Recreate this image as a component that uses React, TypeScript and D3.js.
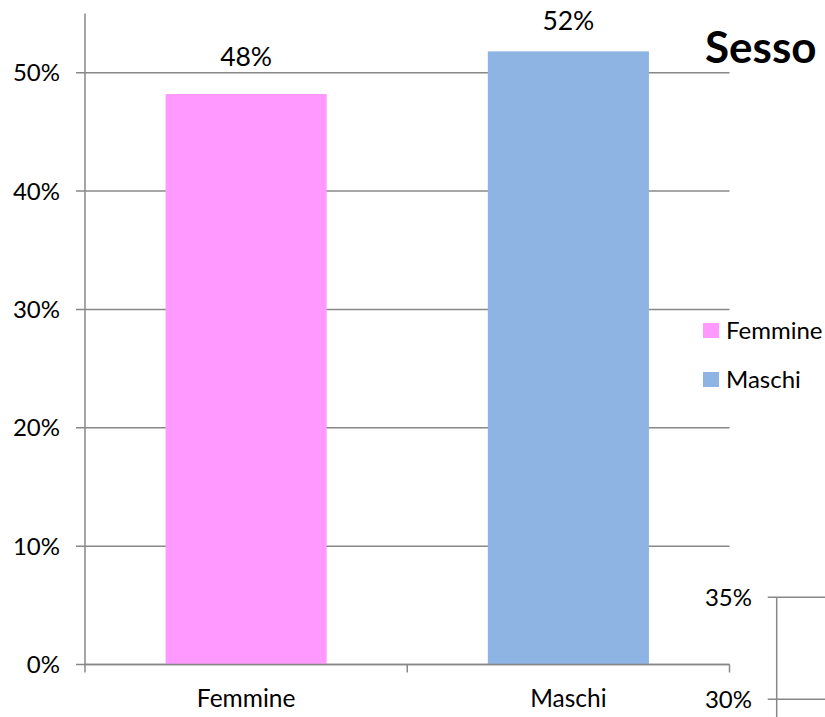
import React from "react";
import * as d3 from "d3";

const categories = ["Femmine", "Maschi"];
const values = [0.482, 0.518];
const valueLabels = ["48%", "52%"];
const colors = ["#FF99FF", "#8EB4E3"];
const yTicks = [0, 0.1, 0.2, 0.3, 0.4, 0.5];
const yTickLabels = ["0%", "10%", "20%", "30%", "40%", "50%"];
const title = "Sesso";
const nextTicks = [0.3, 0.35];
const nextTickLabels = ["30%", "35%"];

const FONT = "Lato, 'Open Sans', sans-serif";
const GRID = "#888888";

export default function App() {
  const W = 825, H = 717;
  const x0 = 85, x1 = 729.5;
  const y = d3.scaleLinear().domain([0, 0.55]).range([664.5, 13.5]);
  const x = d3.scaleBand().domain(categories).range([x0, x1]).paddingInner(0.5).paddingOuter(0.25);
  const y2 = d3.scaleLinear().domain([0.3, 0.35]).range([699.3, 597.3]);
  const ax2 = 776.7;

  return (
    <svg width={W} height={H} style={{ position: "absolute", left: 0, top: 0, background: "#fff" }} fontFamily={FONT}>
      {/* gridlines */}
      {yTicks.map((t, i) => (
        <g key={"g" + i}>
          <line x1={x0 - 9} x2={x1} y1={y(t)} y2={y(t)} stroke={GRID} strokeWidth={1.5} />
          <text x={60} y={y(t)} dy="0.36em" textAnchor="end" fontSize={24} fill="#000">{yTickLabels[i]}</text>
        </g>
      ))}
      {/* bars */}
      {categories.map((c, i) => (
        <g key={c}>
          <rect x={x(c)} y={y(values[i])} width={x.bandwidth()} height={y(0) - y(values[i])} fill={colors[i]} />
          <text x={x(c)! + x.bandwidth() / 2} y={Math.max(y(values[i]) - 27.5, 30)} textAnchor="middle" fontSize={26.5} fill="#000">{valueLabels[i]}</text>
          <text x={x(c)! + x.bandwidth() / 2} y={707} textAnchor="middle" fontSize={24.5} fill="#000">{c}</text>
        </g>
      ))}
      {/* y axis */}
      <line x1={x0} x2={x0} y1={y(0.55)} y2={y(0)} stroke={GRID} strokeWidth={1.5} />
      {/* x axis */}
      <line x1={x0} x2={x1} y1={y(0)} y2={y(0)} stroke={GRID} strokeWidth={1.5} />
      {[x0, (x0 + x1) / 2, x1].map((tx, i) => (
        <line key={"xt" + i} x1={tx} x2={tx} y1={y(0)} y2={y(0) + 8} stroke={GRID} strokeWidth={1.5} />
      ))}
      {/* title */}
      <text x={705} y={62.5} fontSize={44} fontWeight="bold" fill="#000">{title}</text>
      {/* legend */}
      {categories.map((c, i) => (
        <g key={"l" + i}>
          <rect x={703} y={323 + i * 49} width={16} height={15} fill={colors[i]} />
          <text x={726} y={339 + i * 49} fontSize={24} fill="#000">{c}</text>
        </g>
      ))}
      {/* partial next chart */}
      <line x1={ax2} x2={ax2} y1={y2(0.35)} y2={H} stroke={GRID} strokeWidth={1.5} />
      {nextTicks.map((t, i) => (
        <g key={"n" + i}>
          <line x1={ax2 - 9} x2={W} y1={y2(t)} y2={y2(t)} stroke={GRID} strokeWidth={1.5} />
          <text x={752} y={y2(t)} dy="0.36em" textAnchor="end" fontSize={24} fill="#000">{nextTickLabels[i]}</text>
        </g>
      ))}
    </svg>
  );
}
